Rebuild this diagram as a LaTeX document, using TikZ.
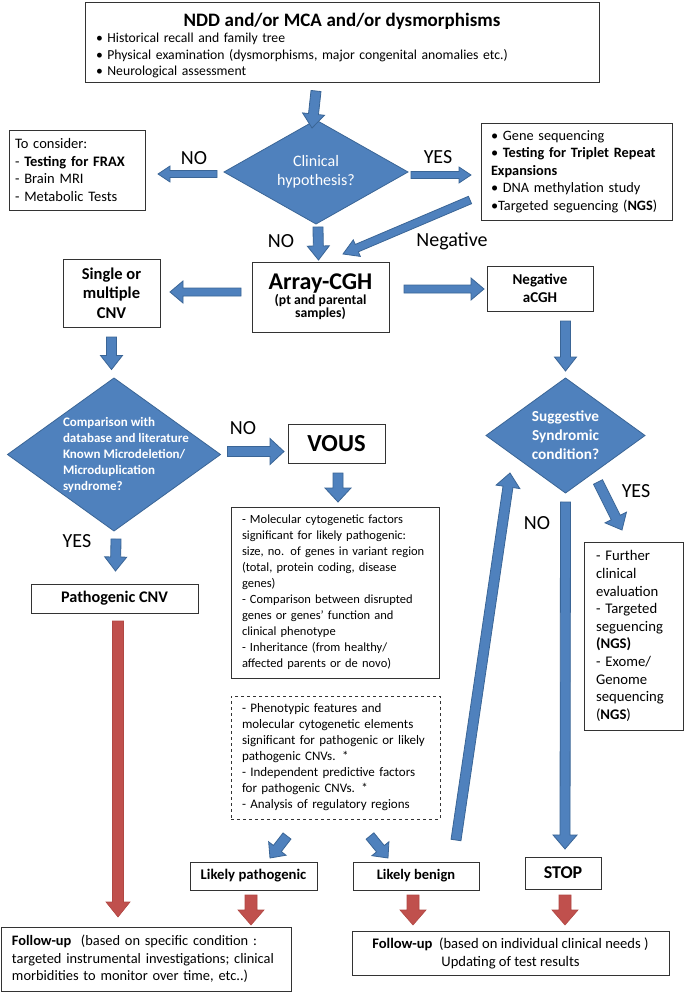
\documentclass[tikz,border=0pt]{standalone}
\usepackage{fontspec}
\setmainfont{Carlito}
\usetikzlibrary{calc,shapes.geometric}

\definecolor{arrblue}{HTML}{4F81BD}
\definecolor{arredge}{HTML}{3A6596}
\definecolor{arrred}{HTML}{C0504D}
\definecolor{arrrededge}{HTML}{B04743}

\newcommand{\fs}[2]{\fontsize{#1pt}{#2pt}\selectfont}

\tikzset{
    ashaft/.store in=\asw, ahead/.store in=\ahw, alen/.store in=\ahl,
    afill/.store in=\afill, adraw/.store in=\adraw,
    blue arrow/.style={ashaft=5pt, ahead=11pt, alen=14pt, afill=arrblue, adraw=arredge, line width=0.8pt},
    red arrow/.style={ashaft=6pt, ahead=13pt, alen=15pt, afill=arrred, adraw=arrrededge, line width=0.6pt}
}

% block arrow from #2 to #3
\newcommand{\blockarrow}[3][]{%
  \begin{scope}[blue arrow,#1]
    \coordinate (ba-s) at #2;
    \coordinate (ba-e) at #3;
    \coordinate (ba-h) at ($(ba-e)!\ahl!(ba-s)$);
    \filldraw[fill=\afill, draw=\adraw]
      ($(ba-s)!\asw!90:(ba-e)$) -- ($(ba-h)!\asw!90:(ba-e)$) -- ($(ba-h)!\ahw!90:(ba-e)$)
      -- (ba-e) -- ($(ba-h)!\ahw!-90:(ba-e)$) -- ($(ba-h)!\asw!-90:(ba-e)$)
      -- ($(ba-s)!\asw!-90:(ba-e)$) -- cycle;
  \end{scope}}

\begin{document}
\begin{tikzpicture}[
    x=1pt, y=-1pt,
    box/.style={draw=black!80, line width=0.9pt, inner sep=0pt, outer sep=0pt, align=center},
    tbox/.style={box, align=left, inner xsep=11pt},
    decision/.style={diamond, fill=arrblue, draw=arredge, line width=0.8pt, inner sep=0pt, outer sep=0pt,
        text=white, align=center},
    lbl/.style={font=\fs{20}{22}}
]
\fill[white] (0,0) rectangle (684,992);
\useasboundingbox (0,0) rectangle (684,992);

% Top
\node[tbox, minimum width=514, minimum height=80, text width=492, font=\fs{13.7}{16.5}] (top) at (342,42) {%
    \makebox[\linewidth]{\rule{0pt}{20pt}\fs{19}{22}\bfseries NDD and/or MCA and/or dysmorphisms}\\
    • Historical recall and family tree\\
    • Physical examination (dysmorphisms, major congenital anomalies etc.)\\
    • Neurological assessment};

% Clinical hypothesis
\node[decision, aspect=1.77, minimum width=184, minimum height=104, font=\fs{16}{19}] (clin) at (316,172) {Clinical\\hypothesis?};
\node[tbox, inner xsep=6pt, minimum width=136, minimum height=80, text width=124, font=\fs{14.5}{17.6}] (consider) at (77,170) {%
    To consider:\\
    - \textbf{Testing for FRAX}\\
    - Brain MRI\\
    - Metabolic Tests};
\node[tbox, inner xsep=10pt, minimum width=191, minimum height=97, text width=171, font=\fs{14.3}{17.5}] (tests) at (576.5,171.5) {%
    • Gene sequencing\\
    • \textbf{Testing for Triplet Repeat}\\
    \textbf{Expansions}\\
    • DNA methylation study\\
    •Targeted seguencing (\textbf{NGS})};
\node[lbl] (no1) at (194,158) {NO};
\node[lbl] (yes1) at (438,157) {YES};
\node[lbl] (no2) at (281,241) {NO};
\node[font=\fs{20}{22}] (negtxt) at (452,241) {Negative};

% Array-CGH row
\node[box, minimum width=137, minimum height=70, font=\bfseries] (acgh) at (320.5,297) {%
    \fs{24}{26}Array-CGH\\[0pt]
    \fs{13.7}{15.5}(pt and parental\\
    \fs{13.7}{15.5}samples)};
\node[box, minimum width=97, minimum height=68, font=\fs{16.5}{19.5}\bfseries] (single) at (111.5,293) {Single or\\multiple\\CNV};
\node[box, minimum width=106, minimum height=45, font=\fs{15}{18}\bfseries] (neg) at (540,288.5) {Negative\\aCGH};

% Comparison
\node[decision, aspect=1.39, inner sep=-14pt, minimum width=213, minimum height=153,
    font=\fs{13}{16}\bfseries] (cmp) at (114,454.5) {%
    \hspace*{28pt}\parbox{130pt}{\raggedright
    Comparison with\\
    database and literature\\
    Known Microdeletion/\\
    Microduplication\\
    syndrome?}};
\node[box, minimum width=97, minimum height=39, font=\fs{24.5}{28}\bfseries] (vous) at (336.5,443.5) {VOUS};
\node[box, minimum width=167, minimum height=29, font=\fs{16.2}{18}\bfseries] (path) at (114.5,598.5) {Pathogenic CNV};
\node[lbl] (no3) at (243,428) {NO};
\node[lbl] (yes2) at (77,541) {YES};

\node[tbox, minimum width=208, minimum height=171, text width=186, font=\fs{12.5}{16}] (mol) at (335,592.5) {%
    - Molecular cytogenetic factors\\
    significant for likely pathogenic:\\
    size, no. of genes in variant region\\
    (total, protein coding, disease\\
    genes)\\
    - Comparison between disrupted\\
    genes or genes’ function and\\
    clinical phenotype\\
    - Inheritance (from healthy/\\
    affected parents or de novo)};
\node[tbox, dashed, minimum width=209, minimum height=123, text width=187, font=\fs{13}{16}] (dash) at (335.5,757.5) {%
    - Phenotypic features and\\
    molecular cytogenetic elements\\
    significant for pathogenic or likely\\
    pathogenic CNVs. *\\
    - Independent predictive factors\\
    for pathogenic CNVs. *\\
    - Analysis of regulatory regions};

% Suggestive syndromic condition
\node[decision, aspect=1.38, inner sep=-6pt, minimum width=159, minimum height=115, font=\fs{15.3}{19}\bfseries] (sugg) at (565.5,435.5) {Suggestive\\Syndromic\\condition?};
\node[tbox, inner xsep=12pt, minimum width=99, minimum height=188, text width=75, font=\fs{14.7}{17.6}] (further) at (633.5,636) {%
    - Further\\
    clinical\\
    evaluation\\
    - Targeted\\
    seguencing\\
    \textbf{(NGS)}\\
    - Exome/\\
    Genome\\
    sequencing\\
    (\textbf{NGS})};
\node[lbl] (yes3) at (636,491) {YES};
\node[lbl] (no4) at (537,523) {NO};

% Outcomes
\node[box, minimum width=127, minimum height=28, font=\fs{14.7}{16}\bfseries] (lpath) at (253.5,876) {Likely pathogenic};
\node[box, minimum width=126, minimum height=28, font=\fs{14.5}{16}\bfseries] (benign) at (416,876) {Likely benign};
\node[box, minimum width=76, minimum height=32, font=\fs{18}{20}\bfseries] (stop) at (563,873) {STOP};

% Follow-up
\node[tbox, minimum width=290, minimum height=64, text width=268, font=\fs{14.4}{17.5}] (fu1) at (146,959) {%
    \textbf{Follow-up}~~(based on specific condition :\\
    targeted instrumental investigations; clinical\\
    morbidities to monitor over time, etc..)};
\node[box, minimum width=317, minimum height=44, font=\fs{14.6}{18}] (fu2) at (510.5,953) {%
    \textbf{Follow-up}~~(based on individual clinical needs )\\
    Updating of test results};

% Arrows
\blockarrow{($(clin.north |- top.south)+(0,9)$)}{($(clin.north)+(-4,8)$)}
\blockarrow[ashaft=3.5pt, ahead=8pt, alen=12pt]{($(clin.west)+(-7,2)$)}{($(consider.east |- clin.west)+(13,2)$)}
\blockarrow[ashaft=3.5pt, ahead=8pt, alen=12pt]{($(clin.east)+(3,3)$)}{($(clin.east -| tests.west)+(-10,3)$)}
\blockarrow[ashaft=4pt, ahead=9pt, alen=15pt]{($(tests.south west)+(-11,-20)$)}{($(acgh.north east)+(-46,-8)$)}
\blockarrow{($(clin.south)+(2,3)$)}{($(acgh.north)+(-2,-2)$)}
\blockarrow[ashaft=4pt, ahead=11pt, alen=13pt]{($(acgh.west)+(-11,-5)$)}{($(single.east |- acgh.west)+(10,-5)$)}
\blockarrow[ashaft=4pt, ahead=11pt, alen=13pt]{($(acgh.east)+(15,-8)$)}{($(neg.west |- acgh.east)+(-3,-8)$)}
\blockarrow{($(single.south)+(0,10)$)}{($(cmp.north)+(-2.5,-8.5)$)}
\blockarrow[ahead=13pt]{($(cmp.east)+(7,-3)$)}{($(vous.west |- cmp.east)+(-4,-3)$)}
\blockarrow[ahead=13pt]{($(vous.south)+(1.5,10)$)}{($(mol.north)+(3,-5)$)}
\blockarrow{($(cmp.south)+(2,8)$)}{($(path.north)+(1,-13)$)}
\blockarrow{($(sugg.north |- neg.south)+(0,10)$)}{($(sugg.north)+(0,-7)$)}
\blockarrow[ahead=12pt]{($(sugg.south)+(0,9)$)}{($(stop.north)+(2,-8)$)}
\blockarrow[ahead=12pt]{($(sugg.south)+(32.5,-11)$)}{($(further.north west)+(38,-12)$)}
\blockarrow[ahead=12pt]{($(benign.north)+(40,-22)$)}{($(sugg.west)+(24,37.5)$)}
\blockarrow[alen=12pt]{($(dash.south)+(-48.5,17)$)}{($(lpath.north)+(16.5,-4)$)}
\blockarrow[alen=12pt]{($(dash.south)+(34.5,17)$)}{($(benign.north)+(-28,-4)$)}

\blockarrow[red arrow, ashaft=5.5pt, ahead=12pt]{($(path.south)+(3.5,8)$)}{($(path.south |- fu1.north)+(3.5,-10)$)}
\blockarrow[red arrow]{($(lpath.south)+(-2.5,5)$)}{($(lpath.south |- fu1.north)+(-2.5,-2)$)}
\blockarrow[red arrow]{($(benign.south)+(-3,5)$)}{($(benign.south |- fu2.north)+(-3,-6)$)}
\blockarrow[red arrow]{($(stop.south)+(2,6)$)}{($(stop.south |- fu2.north)+(2,-6)$)}

\end{tikzpicture}
\end{document}
